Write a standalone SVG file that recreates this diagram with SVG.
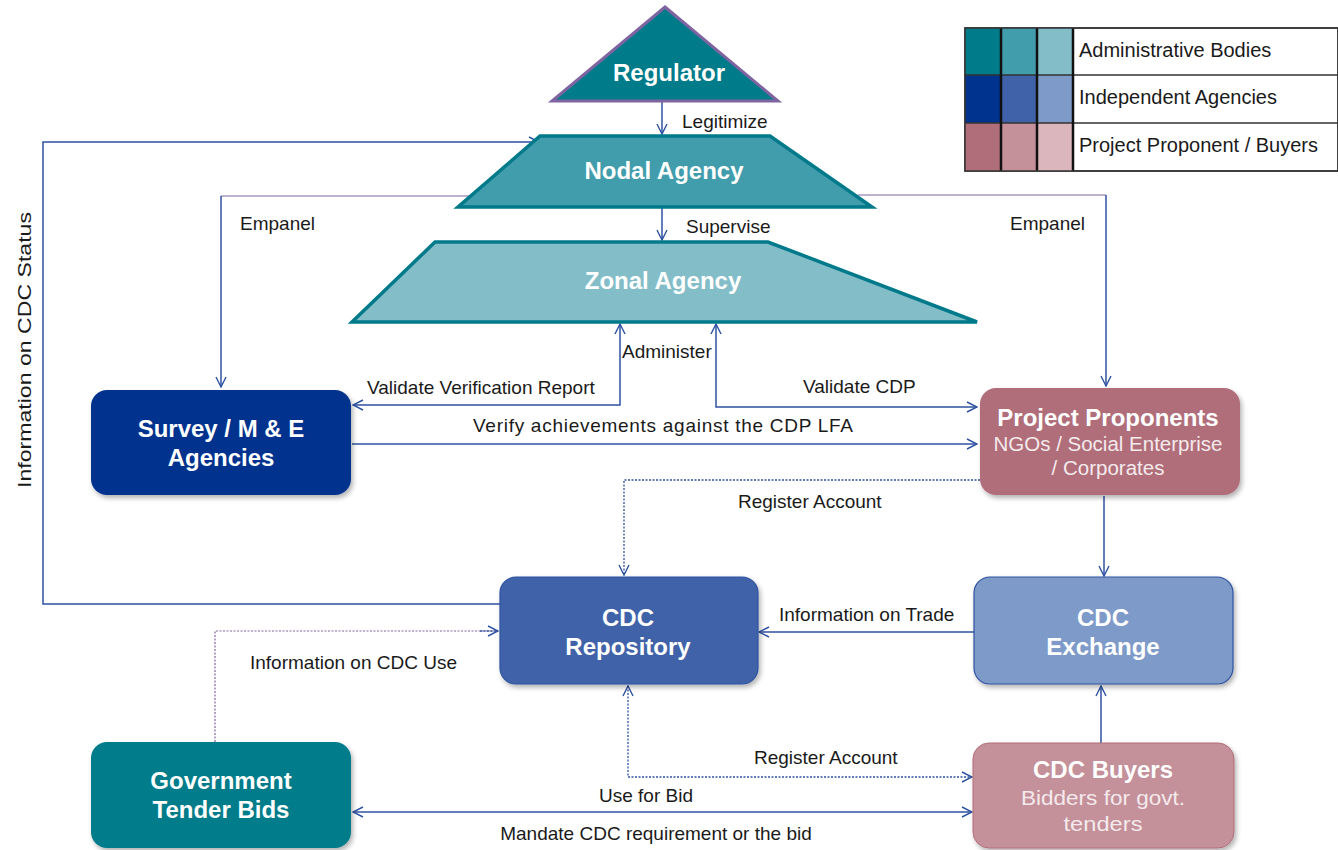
<svg xmlns="http://www.w3.org/2000/svg" width="1338" height="850" viewBox="0 0 1338 850">
<style>
.lbl{font-family:"Liberation Sans",Arial,sans-serif;font-size:19px;fill:#1a1a1a}
.nt{font-family:"Liberation Sans",Arial,sans-serif;font-size:24px;font-weight:bold;fill:#fff;text-anchor:middle}
.ns{font-family:"Liberation Sans",Arial,sans-serif;font-size:20.5px;fill:#f4eaec;text-anchor:middle}
.lg{font-family:"Liberation Sans",Arial,sans-serif;font-size:20px;fill:#1a1a1a}
.c{fill:none;stroke:#2E52A0;stroke-width:1.5}
.p{fill:none;stroke:#8064A2;stroke-width:1.2}
.d{fill:none;stroke:#2E52A0;stroke-width:1.3;stroke-dasharray:2 1.5}
.dp{fill:none;stroke:#8064A2;stroke-width:1.2;stroke-dasharray:2 1.5}
.trap{stroke:#007A8A;stroke-width:3.5;stroke-linejoin:miter}
</style>
<defs>
<marker id="a" viewBox="0 0 12 12" refX="11" refY="6" markerWidth="12" markerHeight="12" markerUnits="userSpaceOnUse" orient="auto-start-reverse">
<path d="M1,1 L11,6 L1,11" fill="none" stroke="#2E52A0" stroke-width="1.4"/>
</marker>
<filter id="sh" x="-10%" y="-10%" width="130%" height="130%">
<feDropShadow dx="2" dy="3" stdDeviation="2.5" flood-color="#000" flood-opacity="0.3"/>
</filter>
</defs>
<rect width="1338" height="850" fill="#fff"/>

<g id="connectors">
<path class="c" d="M662,102 V134" marker-end="url(#a)"/>
<path class="c" d="M662,208 V240" marker-end="url(#a)"/>
<path class="p" d="M470,196 H221"/>
<path class="c" d="M221,196 V387" marker-end="url(#a)"/>
<path class="p" d="M858,195 H1106"/>
<path class="c" d="M1106,195 V386" marker-end="url(#a)"/>
<path class="c" d="M500,604 H43 V142 H539" marker-end="url(#a)"/>
<path class="c" d="M620,324 V405 H353" marker-start="url(#a)" marker-end="url(#a)"/>
<path class="c" d="M716,324 V407 H977" marker-start="url(#a)" marker-end="url(#a)"/>
<path class="c" d="M352,444 H977" marker-end="url(#a)"/>
<path class="d" d="M980,480 H624 V575" marker-end="url(#a)"/>
<path class="c" d="M1104,496 V576" marker-end="url(#a)"/>
<path class="c" d="M974,632 H759" marker-end="url(#a)"/>
<path class="dp" d="M215,742 V631 H498"/>
<path class="d" d="M480,631 H498" marker-end="url(#a)"/>
<path class="d" d="M628,686 V777 H972" marker-start="url(#a)" marker-end="url(#a)"/>
<path class="c" d="M1101,743 V686" marker-end="url(#a)"/>
<path class="c" d="M353,812 H972" marker-start="url(#a)" marker-end="url(#a)"/>
</g>

<g id="labels">
<text class="lbl" x="682" y="128">Legitimize</text>
<text class="lbl" x="686" y="233">Supervise</text>
<text class="lbl" x="240" y="230">Empanel</text>
<text class="lbl" x="1010" y="230">Empanel</text>
<text class="lbl" x="622" y="358">Administer</text>
<text class="lbl" x="367" y="394">Validate Verification Report</text>
<text class="lbl" x="803" y="393">Validate CDP</text>
<text class="lbl" x="473" y="432" textLength="380" lengthAdjust="spacing">Verify achievements against the CDP LFA</text>
<text class="lbl" x="738" y="508">Register Account</text>
<text class="lbl" x="779" y="621">Information on Trade</text>
<text class="lbl" x="250" y="669">Information on CDC Use</text>
<text class="lbl" x="754" y="764">Register Account</text>
<text class="lbl" x="646" y="802" text-anchor="middle">Use for Bid</text>
<text class="lbl" x="656" y="840" text-anchor="middle">Mandate CDC requirement or the bid</text>
<text class="lbl" x="0" y="0" text-anchor="middle" font-size="26" transform="translate(31,350) rotate(-90)" textLength="276" lengthAdjust="spacingAndGlyphs">Information on CDC Status</text>
</g>

<g id="regulator">
<polygon points="665,7 778,101 552,101" fill="#007B8A" stroke="#8064A2" stroke-width="3" stroke-linejoin="miter"/>
<text class="nt" x="669" y="81" font-size="23">Regulator</text>
</g>

<g id="nodal-agency">
<polygon class="trap" points="540,136 770,136 872,207 458,207" fill="#419CAC"/>
<text class="nt" x="664" y="179">Nodal Agency</text>
</g>

<g id="zonal-agency">
<polygon class="trap" points="435,242 768,242 977,322 352,322" fill="#82BDC8"/>
<text class="nt" x="663" y="289">Zonal Agency</text>
</g>

<g id="survey">
<rect x="91" y="390" width="260" height="105" rx="16" fill="#00338E" filter="url(#sh)"/>
<text class="nt" x="221" y="437">Survey / M &amp; E</text>
<text class="nt" x="221" y="466">Agencies</text>
</g>

<g id="project-proponents">
<rect x="980" y="388" width="260" height="107" rx="16" fill="#B06E7A" filter="url(#sh)"/>
<text class="nt" x="1108" y="426">Project Proponents</text>
<text class="ns" x="1108" y="451">NGOs / Social Enterprise</text>
<text class="ns" x="1108" y="475">/ Corporates</text>
</g>

<g id="cdc-repository">
<rect x="500" y="577" width="258" height="107" rx="16" fill="#3F62A8" stroke="#2E52A0" stroke-width="1.2" filter="url(#sh)"/>
<text class="nt" x="628" y="626">CDC</text>
<text class="nt" x="628" y="655">Repository</text>
</g>

<g id="cdc-exchange">
<rect x="974" y="577" width="259" height="107" rx="16" fill="#7E9AC8" stroke="#2E52A0" stroke-width="1.2" filter="url(#sh)"/>
<text class="nt" x="1103" y="626">CDC</text>
<text class="nt" x="1103" y="655">Exchange</text>
</g>

<g id="government-tender-bids">
<rect x="91" y="742" width="260" height="106" rx="16" fill="#007B8A" filter="url(#sh)"/>
<text class="nt" x="221" y="789">Government</text>
<text class="nt" x="221" y="818">Tender Bids</text>
</g>

<g id="cdc-buyers">
<rect x="973" y="743" width="261" height="105" rx="16" fill="#C4909A" stroke="#B06E7A" stroke-width="1" filter="url(#sh)"/>
<text class="nt" x="1103" y="778">CDC Buyers</text>
<text class="ns" x="1103" y="805" font-size="22" textLength="164" lengthAdjust="spacingAndGlyphs">Bidders for govt.</text>
<text class="ns" x="1103" y="831" font-size="22" textLength="79" lengthAdjust="spacingAndGlyphs">tenders</text>
</g>

<g id="legend">
<rect x="965" y="28" width="373" height="143" fill="#fff" stroke="#333" stroke-width="1.5"/>
<rect x="965" y="28" width="36" height="47" fill="#007B8A"/>
<rect x="1001" y="28" width="36" height="47" fill="#419CAC"/>
<rect x="1037" y="28" width="36" height="47" fill="#82BDC8"/>
<rect x="965" y="75" width="36" height="48" fill="#00338E"/>
<rect x="1001" y="75" width="36" height="48" fill="#3F62A8"/>
<rect x="1037" y="75" width="36" height="48" fill="#7E9AC8"/>
<rect x="965" y="123" width="36" height="48" fill="#B06E7A"/>
<rect x="1001" y="123" width="36" height="48" fill="#C4909A"/>
<rect x="1037" y="123" width="36" height="48" fill="#DBB6BC"/>
<path d="M965,75 H1338 M965,123 H1338" stroke="#333" stroke-width="1.5"/>
<path d="M1001,28 V171 M1037,28 V171 M1073,28 V171" stroke="#111" stroke-width="2.5"/>
<rect x="965" y="28" width="373" height="143" fill="none" stroke="#333" stroke-width="1.5"/>
<text class="lg" x="1079" y="57">Administrative Bodies</text>
<text class="lg" x="1079" y="104">Independent Agencies</text>
<text class="lg" x="1079" y="152">Project Proponent / Buyers</text>
</g>
</svg>
